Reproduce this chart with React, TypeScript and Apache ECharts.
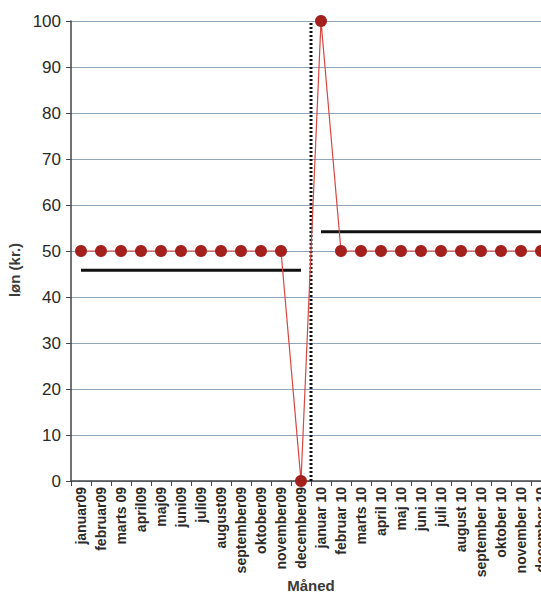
import React, { useEffect, useRef } from "react";
import * as echarts from "echarts";

const months: string[] = [
  "januar09", "februar09", "marts 09", "april09", "maj09", "juni09", "juli09", "august09",
  "september09", "oktober09", "november09", "december09",
  "januar 10", "februar 10", "marts 10", "april 10", "maj 10", "juni 10", "juli 10",
  "august 10", "september 10", "oktober 10", "november 10", "december 10",
];
const wages: number[] = [50, 50, 50, 50, 50, 50, 50, 50, 50, 50, 50, 0, 100, 50, 50, 50, 50, 50, 50, 50, 50, 50, 50, 50];
const avg2009: (number | null)[] = [45.8, 45.8, 45.8, 45.8, 45.8, 45.8, 45.8, 45.8, 45.8, 45.8, 45.8, 45.8, null, null, null, null, null, null, null, null, null, null, null, null];
const avg2010: (number | null)[] = [null, null, null, null, null, null, null, null, null, null, null, null, 54.2, 54.2, 54.2, 54.2, 54.2, 54.2, 54.2, 54.2, 54.2, 54.2, 54.2, 54.2];
const dividerLine: number[][] = [[12, 0], [12, 100]];
const xAxisTitle = "Måned";
const yAxisTitle = "løn (kr.)";

export default function App() {
  const ref = useRef<HTMLDivElement>(null);
  useEffect(() => {
    if (!ref.current) return;
    const chart = echarts.init(ref.current, null, { renderer: "svg" });
    chart.setOption({
      animation: false,
      backgroundColor: "#ffffff",
      grid: { left: 71, right: 9, top: 21, bottom: 116, containLabel: false, outerBoundsMode: "none" },
      graphic: [
        {
          type: "text",
          x: 311,
          y: 585,
          style: {
            text: xAxisTitle,
            fontFamily: "Liberation Sans",
            fontWeight: "bold",
            fontSize: 15,
            fill: "#3a3a3a",
            align: "center",
            verticalAlign: "middle",
          },
        },
      ],
      xAxis: [
        {
          type: "category",
          data: months,
          boundaryGap: true,
          axisLine: { lineStyle: { color: "#444", width: 1.5 } },
          axisTick: { show: true, alignWithLabel: false, length: 5, lineStyle: { color: "#444" } },
          axisLabel: {
            rotate: 90,
            interval: 0,
            margin: 6,
            fontFamily: "Liberation Sans",
            fontWeight: "bold",
            fontSize: 14,
            color: "#2a2a2a",
          },
          splitLine: { show: false },
        },
        { type: "value", min: 0, max: 24, show: false },
      ],
      yAxis: {
        type: "value",
        min: 0,
        max: 100,
        interval: 10,
        name: yAxisTitle,
        nameLocation: "middle",
        nameGap: 49,
        nameTextStyle: {
          fontFamily: "Liberation Sans",
          fontWeight: "bold",
          fontSize: 15,
          color: "#3a3a3a",
          padding: [0, 38, 0, 0],
        },
        axisLine: { show: true, lineStyle: { color: "#444", width: 1.5 } },
        axisTick: { show: true, length: 5, lineStyle: { color: "#444" } },
        axisLabel: { fontFamily: "Liberation Sans", fontSize: 17, color: "#2a2a2a", margin: 10 },
        splitLine: { show: true, lineStyle: { color: "#8fa6bf", width: 1 } },
      },
      series: [
        {
          type: "line",
          data: avg2009,
          xAxisIndex: 0,
          showSymbol: false,
          symbol: "none",
          lineStyle: { color: "#111", width: 3 },
          z: 3,
        },
        {
          type: "line",
          data: avg2010,
          xAxisIndex: 0,
          showSymbol: false,
          symbol: "none",
          lineStyle: { color: "#111", width: 3 },
          z: 3,
        },
        {
          type: "line",
          data: dividerLine,
          xAxisIndex: 1,
          symbol: "none",
          lineStyle: { color: "#111", width: 3, type: [2, 2] },
          z: 4,
        },
        {
          type: "line",
          data: wages,
          xAxisIndex: 0,
          symbol: "circle",
          symbolSize: 12,
          showAllSymbol: true,
          itemStyle: { color: "#a3201c", borderWidth: 0 },
          lineStyle: { color: "#d9453f", width: 1.2 },
          z: 5,
        },
      ],
    });
    return () => chart.dispose();
  }, []);
  return (
    <div
      style={{ position: "absolute", left: 0, top: 0, width: 541, height: 597, overflow: "hidden" }}
    >
      <div ref={ref} style={{ width: 560, height: 597 }} />
    </div>
  );
}
